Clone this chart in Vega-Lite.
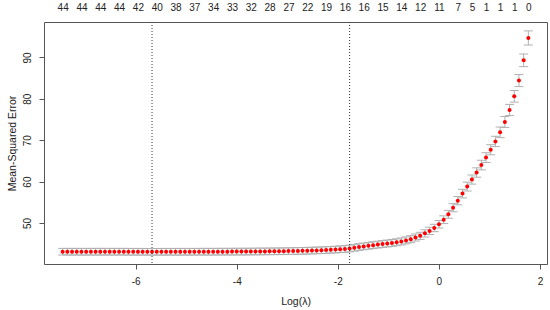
{
  "$schema": "https://vega.github.io/schema/vega-lite/v6.json",
  "width": 503,
  "height": 242,
  "autosize": {"type": "none"},
  "padding": {"left": 44, "top": 22, "right": 3, "bottom": 46},
  "config": {
    "view": {"stroke": "#555555", "strokeWidth": 1},
    "font": "Liberation Sans",
    "axis": {
      "grid": false,
      "domain": false,
      "labelFont": "Liberation Sans",
      "labelFontSize": 10,
      "labelColor": "#222222",
      "tickColor": "#555555",
      "titleFont": "Liberation Sans",
      "titleFontSize": 10.5,
      "titleFontWeight": "normal",
      "titleColor": "#222222"
    }
  },
  "data": {
    "values": [
      {"loglambda": 1.771, "mse": 94.7, "lo": 93.0, "hi": 96.4},
      {"loglambda": 1.678, "mse": 89.3, "lo": 87.78, "hi": 90.82},
      {"loglambda": 1.585, "mse": 84.4, "lo": 82.95, "hi": 85.85},
      {"loglambda": 1.492, "mse": 80.6, "lo": 79.2, "hi": 82.0},
      {"loglambda": 1.399, "mse": 77.3, "lo": 75.95, "hi": 78.65},
      {"loglambda": 1.306, "mse": 74.4, "lo": 73.08, "hi": 75.72},
      {"loglambda": 1.212, "mse": 71.9, "lo": 70.62, "hi": 73.18},
      {"loglambda": 1.119, "mse": 69.7, "lo": 68.45, "hi": 70.95},
      {"loglambda": 1.026, "mse": 67.7, "lo": 66.48, "hi": 68.92},
      {"loglambda": 0.933, "mse": 65.8, "lo": 64.61, "hi": 66.99},
      {"loglambda": 0.84, "mse": 64.0, "lo": 62.84, "hi": 65.16},
      {"loglambda": 0.747, "mse": 62.2, "lo": 61.07, "hi": 63.33},
      {"loglambda": 0.654, "mse": 60.5, "lo": 59.4, "hi": 61.6},
      {"loglambda": 0.561, "mse": 58.8, "lo": 57.73, "hi": 59.87},
      {"loglambda": 0.468, "mse": 57.1, "lo": 56.06, "hi": 58.14},
      {"loglambda": 0.374, "mse": 55.4, "lo": 54.39, "hi": 56.41},
      {"loglambda": 0.281, "mse": 53.7, "lo": 52.72, "hi": 54.68},
      {"loglambda": 0.188, "mse": 52.1, "lo": 51.15, "hi": 53.05},
      {"loglambda": 0.095, "mse": 50.8, "lo": 49.87, "hi": 51.73},
      {"loglambda": 0.002, "mse": 49.7, "lo": 48.79, "hi": 50.61},
      {"loglambda": -0.091, "mse": 48.8, "lo": 47.91, "hi": 49.69},
      {"loglambda": -0.184, "mse": 48.1, "lo": 47.22, "hi": 48.98},
      {"loglambda": -0.277, "mse": 47.5, "lo": 46.63, "hi": 48.37},
      {"loglambda": -0.37, "mse": 46.9, "lo": 46.04, "hi": 47.76},
      {"loglambda": -0.463, "mse": 46.5, "lo": 45.65, "hi": 47.35},
      {"loglambda": -0.557, "mse": 46.1, "lo": 45.25, "hi": 46.95},
      {"loglambda": -0.65, "mse": 45.8, "lo": 44.96, "hi": 46.64},
      {"loglambda": -0.743, "mse": 45.55, "lo": 44.71, "hi": 46.39},
      {"loglambda": -0.836, "mse": 45.35, "lo": 44.52, "hi": 46.18},
      {"loglambda": -0.929, "mse": 45.2, "lo": 44.37, "hi": 46.03},
      {"loglambda": -1.022, "mse": 45.05, "lo": 44.22, "hi": 45.88},
      {"loglambda": -1.115, "mse": 44.92, "lo": 44.1, "hi": 45.74},
      {"loglambda": -1.208, "mse": 44.79, "lo": 43.97, "hi": 45.61},
      {"loglambda": -1.301, "mse": 44.65, "lo": 43.83, "hi": 45.47},
      {"loglambda": -1.394, "mse": 44.5, "lo": 43.68, "hi": 45.32},
      {"loglambda": -1.488, "mse": 44.35, "lo": 43.54, "hi": 45.16},
      {"loglambda": -1.581, "mse": 44.2, "lo": 43.39, "hi": 45.01},
      {"loglambda": -1.674, "mse": 44.02, "lo": 43.21, "hi": 44.83},
      {"loglambda": -1.767, "mse": 43.84, "lo": 43.03, "hi": 44.65},
      {"loglambda": -1.86, "mse": 43.74, "lo": 42.93, "hi": 44.55},
      {"loglambda": -1.953, "mse": 43.66, "lo": 42.85, "hi": 44.47},
      {"loglambda": -2.046, "mse": 43.59, "lo": 42.79, "hi": 44.39},
      {"loglambda": -2.139, "mse": 43.53, "lo": 42.73, "hi": 44.33},
      {"loglambda": -2.232, "mse": 43.47, "lo": 42.67, "hi": 44.27},
      {"loglambda": -2.325, "mse": 43.42, "lo": 42.62, "hi": 44.22},
      {"loglambda": -2.419, "mse": 43.38, "lo": 42.58, "hi": 44.18},
      {"loglambda": -2.512, "mse": 43.34, "lo": 42.54, "hi": 44.14},
      {"loglambda": -2.605, "mse": 43.31, "lo": 42.51, "hi": 44.11},
      {"loglambda": -2.698, "mse": 43.28, "lo": 42.48, "hi": 44.08},
      {"loglambda": -2.791, "mse": 43.25, "lo": 42.45, "hi": 44.05},
      {"loglambda": -2.884, "mse": 43.23, "lo": 42.43, "hi": 44.03},
      {"loglambda": -2.977, "mse": 43.21, "lo": 42.41, "hi": 44.01},
      {"loglambda": -3.07, "mse": 43.19, "lo": 42.39, "hi": 43.99},
      {"loglambda": -3.163, "mse": 43.17, "lo": 42.37, "hi": 43.97},
      {"loglambda": -3.256, "mse": 43.16, "lo": 42.36, "hi": 43.96},
      {"loglambda": -3.35, "mse": 43.15, "lo": 42.35, "hi": 43.95},
      {"loglambda": -3.443, "mse": 43.14, "lo": 42.34, "hi": 43.94},
      {"loglambda": -3.536, "mse": 43.13, "lo": 42.33, "hi": 43.93},
      {"loglambda": -3.629, "mse": 43.12, "lo": 42.32, "hi": 43.92},
      {"loglambda": -3.722, "mse": 43.11, "lo": 42.31, "hi": 43.91},
      {"loglambda": -3.815, "mse": 43.1, "lo": 42.3, "hi": 43.9},
      {"loglambda": -3.908, "mse": 43.1, "lo": 42.3, "hi": 43.9},
      {"loglambda": -4.001, "mse": 43.09, "lo": 42.29, "hi": 43.89},
      {"loglambda": -4.094, "mse": 43.09, "lo": 42.29, "hi": 43.89},
      {"loglambda": -4.187, "mse": 43.08, "lo": 42.28, "hi": 43.88},
      {"loglambda": -4.281, "mse": 43.08, "lo": 42.28, "hi": 43.88},
      {"loglambda": -4.374, "mse": 43.08, "lo": 42.28, "hi": 43.88},
      {"loglambda": -4.467, "mse": 43.07, "lo": 42.27, "hi": 43.87},
      {"loglambda": -4.56, "mse": 43.07, "lo": 42.27, "hi": 43.87},
      {"loglambda": -4.653, "mse": 43.07, "lo": 42.27, "hi": 43.87},
      {"loglambda": -4.746, "mse": 43.07, "lo": 42.27, "hi": 43.87},
      {"loglambda": -4.839, "mse": 43.06, "lo": 42.26, "hi": 43.86},
      {"loglambda": -4.932, "mse": 43.06, "lo": 42.26, "hi": 43.86},
      {"loglambda": -5.025, "mse": 43.06, "lo": 42.26, "hi": 43.86},
      {"loglambda": -5.118, "mse": 43.06, "lo": 42.26, "hi": 43.86},
      {"loglambda": -5.212, "mse": 43.06, "lo": 42.26, "hi": 43.86},
      {"loglambda": -5.305, "mse": 43.06, "lo": 42.26, "hi": 43.86},
      {"loglambda": -5.398, "mse": 43.06, "lo": 42.26, "hi": 43.86},
      {"loglambda": -5.491, "mse": 43.06, "lo": 42.26, "hi": 43.86},
      {"loglambda": -5.584, "mse": 43.05, "lo": 42.25, "hi": 43.85},
      {"loglambda": -5.677, "mse": 43.04, "lo": 42.24, "hi": 43.84},
      {"loglambda": -5.77, "mse": 43.05, "lo": 42.25, "hi": 43.85},
      {"loglambda": -5.863, "mse": 43.06, "lo": 42.26, "hi": 43.86},
      {"loglambda": -5.956, "mse": 43.06, "lo": 42.26, "hi": 43.86},
      {"loglambda": -6.049, "mse": 43.06, "lo": 42.26, "hi": 43.86},
      {"loglambda": -6.143, "mse": 43.06, "lo": 42.26, "hi": 43.86},
      {"loglambda": -6.236, "mse": 43.07, "lo": 42.27, "hi": 43.87},
      {"loglambda": -6.329, "mse": 43.07, "lo": 42.27, "hi": 43.87},
      {"loglambda": -6.422, "mse": 43.07, "lo": 42.27, "hi": 43.87},
      {"loglambda": -6.515, "mse": 43.07, "lo": 42.27, "hi": 43.87},
      {"loglambda": -6.608, "mse": 43.07, "lo": 42.27, "hi": 43.87},
      {"loglambda": -6.701, "mse": 43.07, "lo": 42.27, "hi": 43.87},
      {"loglambda": -6.794, "mse": 43.07, "lo": 42.27, "hi": 43.87},
      {"loglambda": -6.887, "mse": 43.07, "lo": 42.27, "hi": 43.87},
      {"loglambda": -6.98, "mse": 43.07, "lo": 42.27, "hi": 43.87},
      {"loglambda": -7.074, "mse": 43.07, "lo": 42.27, "hi": 43.87},
      {"loglambda": -7.167, "mse": 43.07, "lo": 42.27, "hi": 43.87},
      {"loglambda": -7.26, "mse": 43.07, "lo": 42.27, "hi": 43.87},
      {"loglambda": -7.353, "mse": 43.07, "lo": 42.27, "hi": 43.87},
      {"loglambda": -7.446, "mse": 43.07, "lo": 42.27, "hi": 43.87}
    ]
  },
  "resolve": {"axis": {"x": "independent"}},
  "layer": [
    {
      "mark": {"type": "rule", "color": "#b0b0b0", "strokeWidth": 1},
      "encoding": {
        "x": {"field": "loglambda", "type": "quantitative", "scale": {"domain": [-7.815, 2.14], "nice": false, "zero": false}, "axis": null},
        "y": {"field": "lo", "type": "quantitative", "scale": {"domain": [40.1, 98.55], "nice": false, "zero": false}},
        "y2": {"field": "hi"}
      }
    },
    {
      "mark": {"type": "tick", "orient": "horizontal", "size": 9, "thickness": 1, "color": "#b0b0b0", "opacity": 1},
      "encoding": {
        "x": {"field": "loglambda", "type": "quantitative", "axis": null},
        "y": {"field": "lo", "type": "quantitative"}
      }
    },
    {
      "mark": {"type": "tick", "orient": "horizontal", "size": 9, "thickness": 1, "color": "#b0b0b0", "opacity": 1},
      "encoding": {
        "x": {"field": "loglambda", "type": "quantitative", "axis": null},
        "y": {"field": "hi", "type": "quantitative"}
      }
    },
    {
      "mark": {"type": "point", "filled": true, "shape": "circle", "size": 16, "color": "#ff0000", "opacity": 1},
      "encoding": {
        "x": {
          "field": "loglambda", "type": "quantitative",
          "axis": {
            "orient": "bottom", "title": "Log(λ)", "values": [-6, -4, -2, 0, 2],
            "labelExpr": "'' + datum.value", "tickSize": 5, "labelPadding": 7, "titlePadding": 10
          }
        },
        "y": {
          "field": "mse", "type": "quantitative",
          "axis": {
            "title": "Mean-Squared Error", "values": [50, 60, 70, 80, 90],
            "labelAngle": -90, "labelAlign": "center", "labelBaseline": "bottom",
            "tickSize": 5, "labelPadding": 7, "titlePadding": 5
          }
        }
      }
    },
    {
      "data": {"values": [{"loglambda": -5.677, "which": "lambda.min"}, {"loglambda": -1.767, "which": "lambda.1se"}]},
      "mark": {"type": "rule", "color": "#333333", "strokeWidth": 1, "strokeDash": [1, 2]},
      "encoding": {
        "x": {
          "field": "loglambda", "type": "quantitative",
          "axis": {
            "orient": "top", "title": null, "ticks": false, "domain": false, "labelPadding": 10, "labelOverlap": false, "labelFlush": false, "labelBound": false,
            "values": [-7.446, -7.074, -6.701, -6.329, -5.956, -5.584, -5.212, -4.839, -4.467, -4.094, -3.722, -3.35, -2.977, -2.605, -2.232, -1.86, -1.488, -1.115, -0.743, -0.37, 0.002, 0.374, 0.654, 0.933, 1.212, 1.492, 1.771],
            "labelExpr": "['44','44','44','44','42','40','38','37','34','33','32','28','27','22','19','16','16','15','14','12','11','7','5','1','1','1','0'][indexof([-7.446, -7.074, -6.701, -6.329, -5.956, -5.584, -5.212, -4.839, -4.467, -4.094, -3.722, -3.35, -2.977, -2.605, -2.232, -1.86, -1.488, -1.115, -0.743, -0.37, 0.002, 0.374, 0.654, 0.933, 1.212, 1.492, 1.771], datum.value)]"
          }
        }
      }
    }
  ]
}
